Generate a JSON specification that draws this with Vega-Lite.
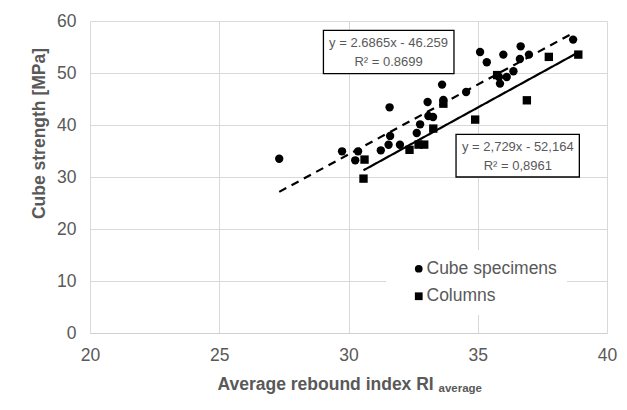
{
  "$schema": "https://vega.github.io/schema/vega-lite/v6.json",
  "autosize": "none",
  "width": 517,
  "height": 312,
  "padding": {"left": 90, "top": 21, "right": 20, "bottom": 77},
  "background": "white",
  "config": {
    "view": {"stroke": null},
    "font": "Liberation Sans"
  },
  "datasets": {
    "points": [
      {"ri": 27.32, "strength": 33.5, "type": "Cube specimens"},
      {"ri": 29.75, "strength": 34.94, "type": "Cube specimens"},
      {"ri": 30.37, "strength": 34.94, "type": "Cube specimens"},
      {"ri": 30.26, "strength": 33.21, "type": "Cube specimens"},
      {"ri": 31.25, "strength": 35.13, "type": "Cube specimens"},
      {"ri": 31.61, "strength": 37.9, "type": "Cube specimens"},
      {"ri": 31.55, "strength": 36.2, "type": "Cube specimens"},
      {"ri": 31.99, "strength": 36.2, "type": "Cube specimens"},
      {"ri": 31.59, "strength": 43.4, "type": "Cube specimens"},
      {"ri": 32.64, "strength": 38.46, "type": "Cube specimens"},
      {"ri": 32.77, "strength": 40.13, "type": "Cube specimens"},
      {"ri": 33.06, "strength": 44.42, "type": "Cube specimens"},
      {"ri": 33.09, "strength": 41.73, "type": "Cube specimens"},
      {"ri": 33.27, "strength": 41.54, "type": "Cube specimens"},
      {"ri": 33.62, "strength": 47.77, "type": "Cube specimens"},
      {"ri": 33.67, "strength": 44.8, "type": "Cube specimens"},
      {"ri": 34.55, "strength": 46.35, "type": "Cube specimens"},
      {"ri": 35.09, "strength": 54.04, "type": "Cube specimens"},
      {"ri": 35.35, "strength": 52.06, "type": "Cube specimens"},
      {"ri": 35.82, "strength": 49.23, "type": "Cube specimens"},
      {"ri": 35.86, "strength": 47.96, "type": "Cube specimens"},
      {"ri": 35.99, "strength": 53.54, "type": "Cube specimens"},
      {"ri": 36.12, "strength": 49.23, "type": "Cube specimens"},
      {"ri": 36.38, "strength": 50.33, "type": "Cube specimens"},
      {"ri": 36.66, "strength": 55.13, "type": "Cube specimens"},
      {"ri": 36.63, "strength": 52.69, "type": "Cube specimens"},
      {"ri": 36.98, "strength": 53.54, "type": "Cube specimens"},
      {"ri": 38.69, "strength": 56.42, "type": "Cube specimens"},
      {"ri": 30.62, "strength": 33.35, "type": "Columns"},
      {"ri": 30.58, "strength": 29.69, "type": "Columns"},
      {"ri": 32.36, "strength": 35.23, "type": "Columns"},
      {"ri": 32.71, "strength": 36.23, "type": "Columns"},
      {"ri": 32.93, "strength": 36.23, "type": "Columns"},
      {"ri": 33.28, "strength": 39.31, "type": "Columns"},
      {"ri": 33.67, "strength": 44.1, "type": "Columns"},
      {"ri": 34.9, "strength": 41.04, "type": "Columns"},
      {"ri": 35.75, "strength": 49.6, "type": "Columns"},
      {"ri": 36.9, "strength": 44.75, "type": "Columns"},
      {"ri": 37.75, "strength": 53.1, "type": "Columns"},
      {"ri": 38.89, "strength": 53.54, "type": "Columns"}
    ],
    "trends": [
      {"fit": "cube fit", "xa": 27.32, "ya": 27.14, "xb": 38.69, "yb": 57.68},
      {"fit": "column fit", "xa": 30.58, "ya": 31.29, "xb": 38.89, "yb": 53.97}
    ],
    "notes": [
      {"label": "y = 2.6865x - 46.259\nR² = 0.8699", "x0": 29.03, "x1": 34.08, "y0": 49.88, "y1": 58.21, "cx": 31.55, "cy": 55.77},
      {"label": "y = 2,729x - 52,164\nR² = 0,8961", "x0": 34.16, "x1": 38.93, "y0": 30.0, "y1": 38.21, "cx": 36.55, "cy": 35.77}
    ]
  },
  "layer": [
    {
      "data": {"name": "trends"},
      "mark": {"type": "rule", "strokeWidth": 2.2, "color": "black"},
      "encoding": {
        "x": {
          "field": "xa", "type": "quantitative",
          "scale": {"domain": [20, 40], "nice": false, "zero": false},
          "axis": {
            "orient": "bottom",
            "values": [20, 25, 30, 35, 40],
            "grid": true, "gridColor": "#d9d9d9", "gridWidth": 1,
            "domain": true, "domainColor": "#d0d0d0", "domainWidth": 1,
            "ticks": false, "labelFlush": false,
            "labelFont": "Liberation Sans", "labelFontSize": 17.5, "labelColor": "#595959", "labelPadding": 13,
            "title": "Average rebound index RI",
            "titleFont": "Liberation Sans", "titleFontSize": 17.5, "titleFontWeight": "bold", "titleColor": "#595959",
            "titleAlign": "left", "titleBaseline": "alphabetic", "titleX": 127, "titleY": 56.5
          }
        },
        "x2": {"field": "xb"},
        "y": {
          "field": "ya", "type": "quantitative",
          "scale": {"domain": [0, 60], "nice": false},
          "axis": {
            "values": [0, 10, 20, 30, 40, 50, 60],
            "grid": true, "gridColor": "#d9d9d9", "gridWidth": 1,
            "domain": false, "ticks": false, "labelFlush": false,
            "labelFont": "Liberation Sans", "labelFontSize": 17.5, "labelColor": "#595959", "labelPadding": 14,
            "title": "Cube strength [MPa]",
            "titleFont": "Liberation Sans", "titleFontSize": 17.5, "titleFontWeight": "bold", "titleColor": "#595959",
            "titleAngle": 270, "titleAlign": "center", "titleBaseline": "middle", "titleX": -51, "titleY": 112
          }
        },
        "y2": {"field": "yb"},
        "strokeDash": {
          "field": "fit", "type": "nominal",
          "scale": {"domain": ["cube fit", "column fit"], "range": [[8, 6], [1, 0]]},
          "legend": null
        }
      }
    },
    {
      "data": {"name": "points"},
      "mark": {"type": "point", "filled": true, "size": 70, "opacity": 1, "color": "black"},
      "encoding": {
        "x": {
          "field": "ri", "type": "quantitative",
          "axis": {
            "orient": "bottom", "labels": false, "ticks": false, "domain": false, "grid": false,
            "title": "average",
            "titleFont": "Liberation Sans", "titleFontSize": 11.5, "titleFontWeight": "bold", "titleColor": "#595959",
            "titleAlign": "left", "titleBaseline": "alphabetic", "titleX": 348, "titleY": 58.5
          }
        },
        "y": {"field": "strength", "type": "quantitative"},
        "shape": {
          "field": "type", "type": "nominal",
          "scale": {"domain": ["Cube specimens", "Columns"], "range": ["circle", "square"]},
          "legend": {
            "orient": "none", "legendX": 296, "legendY": 229,
            "title": null,
            "fillColor": "white", "padding": 10,
            "symbolFillColor": "black", "symbolStrokeWidth": 0, "symbolSize": 60, "symbolOffset": 14,
            "labelFont": "Liberation Sans", "labelFontSize": 17.5, "labelColor": "#595959",
            "labelOffset": -1, "rowPadding": 8.5
          }
        }
      }
    },
    {
      "data": {"name": "notes"},
      "mark": {"type": "rect", "fill": "white", "stroke": "black", "strokeWidth": 1.3},
      "encoding": {
        "x": {"field": "x0", "type": "quantitative", "axis": null},
        "x2": {"field": "x1"},
        "y": {"field": "y0", "type": "quantitative"},
        "y2": {"field": "y1"}
      }
    },
    {
      "data": {"name": "notes"},
      "mark": {"type": "text", "font": "Liberation Sans", "fontSize": 13, "color": "#595959", "align": "center", "baseline": "middle", "lineBreak": "\n", "lineHeight": 19},
      "encoding": {
        "x": {"field": "cx", "type": "quantitative", "axis": null},
        "y": {"field": "cy", "type": "quantitative"},
        "text": {"field": "label"}
      }
    }
  ],
  "resolve": {"axis": {"x": "independent"}}
}
